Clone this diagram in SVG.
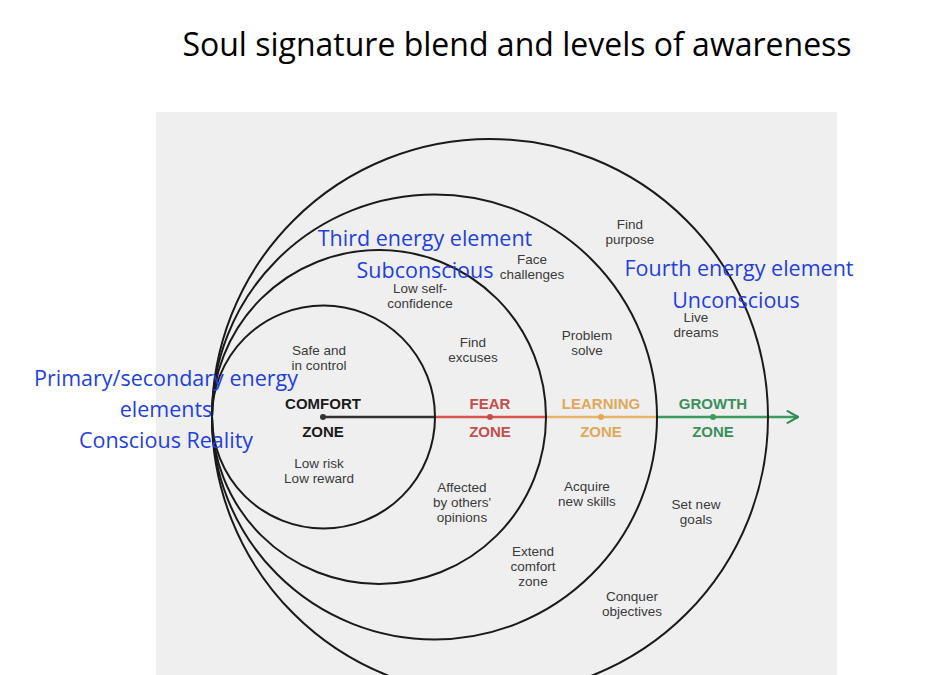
<svg xmlns="http://www.w3.org/2000/svg" width="940" height="675" viewBox="0 0 940 675">
<style>
.c{fill:none;stroke:#1a1a1a;stroke-width:2}
.s{font-family:"Liberation Sans",Arial,sans-serif;font-size:13.5px;fill:#3a3a3a;text-anchor:middle}
.b{font-family:"Liberation Sans",Arial,sans-serif;font-size:15px;font-weight:bold;text-anchor:middle}
.o{font-family:"Open Sans","Liberation Sans",sans-serif;font-size:21.5px;fill:#1f3fe0;text-anchor:middle}
</style>
<defs><marker id="ar" viewBox="0 0 10 10" refX="9" refY="5" markerWidth="14" markerHeight="14" markerUnits="userSpaceOnUse" orient="auto"><path d="M1,0.5 L9,5 L1,9.5" fill="none" stroke="#2e8b57" stroke-width="1.5"/></marker></defs>
<rect width="940" height="675" fill="#fff"/>
<text x="517" y="56" font-family="Open Sans,Liberation Sans,sans-serif" font-size="32" fill="#000" text-anchor="middle">Soul signature blend and levels of awareness</text>
<rect x="156" y="112" width="681" height="563" fill="#efefef"/>
<g id="connectors">
<line x1="323" y1="417" x2="435" y2="417" stroke="#333" stroke-width="2.5"/>
<line x1="435" y1="417" x2="546" y2="417" stroke="#d9534f" stroke-width="2.5"/>
<line x1="546" y1="417" x2="657" y2="417" stroke="#e8b46a" stroke-width="2.5"/>
<line x1="657" y1="417" x2="798" y2="417" stroke="#3b9a5e" stroke-width="2.5" marker-end="url(#ar)"/>
<circle cx="323" cy="417" r="3" fill="#333"/><circle cx="490" cy="417" r="3" fill="#c0504d"/><circle cx="601" cy="417" r="3" fill="#e0a85a"/><circle cx="713" cy="417" r="3" fill="#3b9a5e"/>
</g>
<g id="growth"><circle class="c" cx="490" cy="417" r="278"/>
<text class="b" x="713" y="409" fill="#3b8f5a">GROWTH</text><text class="b" x="713" y="437" fill="#3b8f5a">ZONE</text>
<text class="s" x="630" y="229">Find</text><text class="s" x="630" y="244">purpose</text>
<text class="s" x="696" y="322">Live</text><text class="s" x="696" y="337">dreams</text>
<text class="s" x="696" y="509">Set new</text><text class="s" x="696" y="524">goals</text>
<text class="s" x="632" y="601">Conquer</text><text class="s" x="632" y="616">objectives</text></g>
<g id="learning"><circle class="c" cx="434.5" cy="417" r="222.5"/>
<text class="b" x="601" y="409" fill="#e0a85a">LEARNING</text><text class="b" x="601" y="437" fill="#e0a85a">ZONE</text>
<text class="s" x="532" y="264">Face</text><text class="s" x="532" y="279">challenges</text>
<text class="s" x="587" y="340">Problem</text><text class="s" x="587" y="355">solve</text>
<text class="s" x="587" y="491">Acquire</text><text class="s" x="587" y="506">new skills</text>
<text class="s" x="533" y="556">Extend</text><text class="s" x="533" y="571">comfort</text><text class="s" x="533" y="586">zone</text></g>
<g id="fear"><circle class="c" cx="379" cy="417" r="167"/>
<text class="b" x="490" y="409" fill="#c0504d">FEAR</text><text class="b" x="490" y="437" fill="#c0504d">ZONE</text>
<text class="s" x="420" y="293">Low self-</text><text class="s" x="420" y="308">confidence</text>
<text class="s" x="473" y="347">Find</text><text class="s" x="473" y="362">excuses</text>
<text class="s" x="462" y="492">Affected</text><text class="s" x="462" y="507">by others'</text><text class="s" x="462" y="522">opinions</text></g>
<g id="comfort"><circle class="c" cx="323.5" cy="417" r="111.5"/>
<text class="b" x="323" y="409" fill="#1a1a1a">COMFORT</text><text class="b" x="323" y="437" fill="#1a1a1a">ZONE</text>
<text class="s" x="319" y="355">Safe and</text><text class="s" x="319" y="370">in control</text>
<text class="s" x="319" y="468">Low risk</text><text class="s" x="319" y="483">Low reward</text></g>
<g id="labels">
<text class="o" x="425" y="246">Third  energy element</text>
<text class="o" x="425" y="278">Subconscious</text>
<text class="o" x="739" y="276">Fourth energy element</text>
<text class="o" x="736" y="308">Unconscious</text>
<text class="o" x="166" y="386">Primary/secondary energy</text>
<text class="o" x="166" y="417">elements</text>
<text class="o" x="166" y="448">Conscious Reality</text>
</g>
</svg>
